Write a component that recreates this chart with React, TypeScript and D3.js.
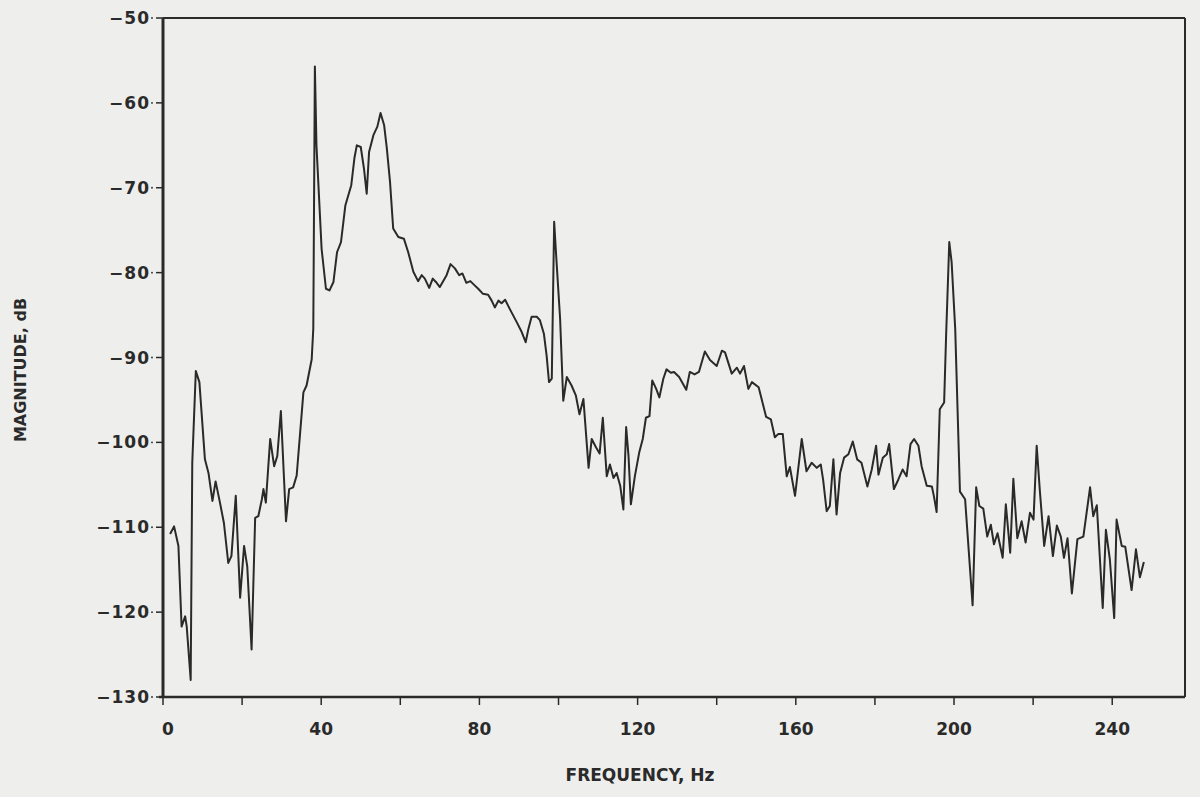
import React from "react";
import * as d3 from "d3";

// Frequency (Hz) and magnitude (dB)
const freqHz: number[] = [
  1.8, 2.8, 3.9, 4.7, 5.6, 6.0, 7.0, 7.4, 8.3, 9.2, 10.6, 11.5, 12.5, 13.3, 14.4, 15.4, 16.5, 17.3, 18.4, 19.5,
  20.5, 21.3, 22.4, 23.3, 24.1, 25.0, 25.4, 26.0, 27.1, 28.1, 28.9, 29.8, 31.1, 31.9, 32.9, 33.8, 35.5, 36.3, 37.6, 38.0,
  38.4, 38.8, 40.1, 41.2, 42.1, 43.1, 44.0, 45.0, 46.1, 47.6, 48.4, 49.0, 50.0, 50.8, 51.5, 52.1, 53.2, 54.2, 55.0, 55.9,
  56.6, 57.4, 58.2, 59.5, 60.9, 62.0, 63.3, 64.5, 65.4, 66.2, 67.3, 68.2, 69.0, 70.0, 71.7, 72.7, 73.8, 74.9, 75.7, 76.7,
  77.7, 78.8, 79.7, 80.9, 82.2, 83.1, 83.9, 84.8, 85.6, 86.5, 87.7, 89.4, 90.7, 91.7, 92.4, 93.2, 94.5, 95.3, 96.3, 97.0,
  97.6, 98.3, 98.9, 99.5, 100.4, 101.2, 102.1, 103.3, 104.4, 105.3, 106.3, 107.6, 108.4, 109.5, 110.4, 111.2, 112.2, 113.0, 113.9, 114.7,
  115.6, 116.4, 117.1, 117.7, 118.3, 119.3, 120.4, 121.3, 122.1, 123.0, 123.7, 124.7, 125.5, 126.5, 127.3, 128.4, 129.2, 130.5, 132.3, 133.2,
  134.4, 135.5, 137.0, 138.3, 140.0, 141.3, 142.1, 143.8, 145.1, 145.9, 146.9, 148.0, 148.9, 150.6, 152.5, 153.7, 154.7, 155.6, 156.7, 157.7,
  158.5, 159.8, 161.5, 162.7, 164.0, 165.3, 166.3, 166.9, 167.8, 168.6, 169.5, 170.3, 171.2, 172.2, 173.3, 174.4, 175.5, 176.6, 178.1, 179.2,
  180.3, 180.9, 182.0, 183.0, 183.6, 184.8, 185.9, 187.0, 188.0, 189.0, 189.9, 191.0, 191.8, 193.1, 194.4, 194.9, 195.6, 196.4, 197.5, 198.0,
  198.8, 199.4, 200.3, 201.5, 202.8, 204.7, 205.6, 206.4, 207.4, 208.4, 209.3, 210.1, 211.0, 212.3, 213.1, 214.2, 215.0, 216.0, 217.1, 218.1,
  219.2, 220.1, 220.9, 221.7, 222.8, 223.9, 225.0, 226.0, 227.0, 227.8, 228.7, 229.8, 231.2, 232.7, 234.4, 235.2, 236.1, 237.6, 238.4, 239.4,
  240.5, 241.1, 242.4, 243.3, 244.9, 246.0, 247.0, 248.0,
];

const magnitudeDb: number[] = [
  -110.8, -109.9, -112.2, -121.7, -120.5, -121.7, -128.0, -102.4, -91.6, -92.9, -102.0, -103.6, -106.9, -104.6, -107.1, -109.5, -114.2, -113.4, -106.3, -118.3,
  -112.2, -114.6, -124.4, -108.9, -108.7, -106.7, -105.5, -107.1, -99.6, -102.8, -101.6, -96.3, -109.3, -105.5, -105.3, -103.9, -94.1, -93.3, -90.2, -86.6,
  -55.7, -65.0, -77.2, -81.9, -82.1, -81.1, -77.6, -76.4, -72.1, -69.7, -66.5, -65.0, -65.2, -67.7, -70.7, -65.8, -63.8, -62.8, -61.2, -62.6,
  -65.4, -69.3, -74.8, -75.8, -76.0, -77.6, -79.9, -81.0, -80.3, -80.7, -81.8, -80.7, -81.1, -81.7, -80.3, -79.0, -79.5, -80.3, -80.1, -81.2,
  -81.0, -81.5, -81.9, -82.5, -82.6, -83.3, -84.1, -83.3, -83.6, -83.2, -84.3, -85.8, -87.0, -88.2, -86.6, -85.2, -85.2, -85.6, -87.2, -89.8,
  -92.9, -92.5, -74.0, -78.7, -85.4, -95.1, -92.3, -93.3, -94.5, -96.7, -94.9, -103.0, -99.6, -100.6, -101.3, -97.1, -104.0, -102.6, -104.2, -103.6,
  -105.1, -107.9, -98.2, -101.6, -107.3, -104.0, -101.2, -99.6, -97.1, -96.9, -92.7, -93.7, -94.7, -92.5, -91.4, -91.8, -91.7, -92.3, -93.8, -91.7,
  -92.0, -91.7, -89.3, -90.3, -91.0, -89.2, -89.4, -91.9, -91.2, -91.9, -91.0, -93.7, -92.9, -93.5, -97.0, -97.3, -99.4, -99.0, -99.0, -104.0,
  -102.9, -106.3, -99.6, -103.4, -102.4, -103.0, -102.6, -104.4, -108.1, -107.5, -102.0, -108.5, -103.6, -101.8, -101.4, -99.9, -102.0, -102.4, -105.2, -103.2,
  -100.4, -103.8, -101.8, -101.4, -100.2, -105.5, -104.4, -103.2, -104.0, -100.2, -99.6, -100.4, -102.8, -105.1, -105.2, -106.3, -108.2, -96.1, -95.3, -87.4,
  -76.4, -78.8, -86.6, -105.8, -106.7, -119.2, -105.3, -107.5, -107.8, -111.1, -109.7, -112.0, -110.7, -113.6, -107.3, -113.0, -104.3, -111.3, -109.3, -111.8,
  -108.3, -109.1, -100.4, -105.7, -112.2, -108.7, -113.4, -109.8, -111.1, -113.6, -111.3, -117.8, -111.4, -111.1, -105.3, -108.7, -107.4, -119.5, -110.3, -113.8,
  -120.7, -109.1, -112.2, -112.3, -117.4, -112.6, -115.9, -114.1,
];

const xTicks: number[] = [0, 20, 40, 60, 80, 100, 120, 140, 160, 180, 200, 220, 240];
const xTickLabels: number[] = [0, 40, 80, 120, 160, 200, 240];
const yTicks: number[] = [-50, -60, -70, -80, -90, -100, -110, -120, -130];

const xTitle = "FREQUENCY, Hz";
const yTitle = "MAGNITUDE, dB";

export default function App() {
  const W = 1200;
  const H = 797;
  const left = 163;
  const right = 1185;
  const top = 18;
  const bottom = 697;

  const x = d3.scaleLinear().domain([0, 258.4]).range([left, right]);
  const y = d3.scaleLinear().domain([-130, -50]).range([bottom, top]);

  const pts: [number, number][] = freqHz.map((f, i) => [f, magnitudeDb[i]]);
  const line = d3
    .line<[number, number]>()
    .x((d) => x(d[0]))
    .y((d) => y(d[1]));

  const ink = "#2a2a2a";
  const font = "'DejaVu Sans', 'Liberation Sans', sans-serif";

  return (
    <svg
      width={W}
      height={H}
      viewBox={`0 0 ${W} ${H}`}
      style={{ position: "absolute", left: 0, top: 0, display: "block" }}
    >
      <rect x={0} y={0} width={W} height={H} fill="#eeeeec" />
      {/* frame */}
      <line x1={left} y1={top} x2={right} y2={top} stroke={ink} strokeWidth={2} />
      <line x1={right} y1={top} x2={right} y2={bottom} stroke={ink} strokeWidth={2} />
      <line x1={left} y1={top} x2={left} y2={bottom} stroke={ink} strokeWidth={3} />
      <line x1={left - 4} y1={bottom} x2={right} y2={bottom} stroke={ink} strokeWidth={2.5} />

      {/* y ticks */}
      {yTicks.map((t) => (
        <g key={`y${t}`}>
          <line x1={left - 7} y1={y(t)} x2={left} y2={y(t)} stroke={ink} strokeWidth={1.5} />
          <circle cx={left - 11} cy={y(t)} r={0.9} fill={ink} />
          <text
            x={150}
            y={y(t)}
            dy="0.36em"
            textAnchor="end"
            fontFamily={font}
            fontSize={17}
            fontWeight="bold"
            fill={ink}
            letterSpacing={1}
          >
            {`\u2212${Math.abs(t)}`}
          </text>
        </g>
      ))}

      {/* x ticks */}
      {xTicks.map((t) => (
        <line key={`x${t}`} x1={x(t)} y1={bottom} x2={x(t)} y2={bottom + 8} stroke={ink} strokeWidth={1.5} />
      ))}
      {xTickLabels.map((t) => (
        <text
          key={`xl${t}`}
          x={x(t) + (t === 0 ? 5 : 0)}
          y={735}
          textAnchor="middle"
          fontFamily={font}
          fontSize={17}
          fontWeight="bold"
          fill={ink}
        >
          {t}
        </text>
      ))}

      {/* axis titles */}
      <text
        x={640}
        y={781}
        textAnchor="middle"
        fontFamily={font}
        fontSize={17}
        fontWeight="bold"
        fill={ink}
      >
        {xTitle}
      </text>
      <text
        transform={`translate(26, 370) rotate(-90)`}
        textAnchor="middle"
        fontFamily={font}
        fontSize={16}
        fill={ink}
        fontWeight="bold"
      >
        {yTitle}
      </text>

      {/* spectrum trace */}
      <path d={line(pts) || ""} fill="none" stroke={ink} strokeWidth={2} strokeLinejoin="round" />
    </svg>
  );
}
